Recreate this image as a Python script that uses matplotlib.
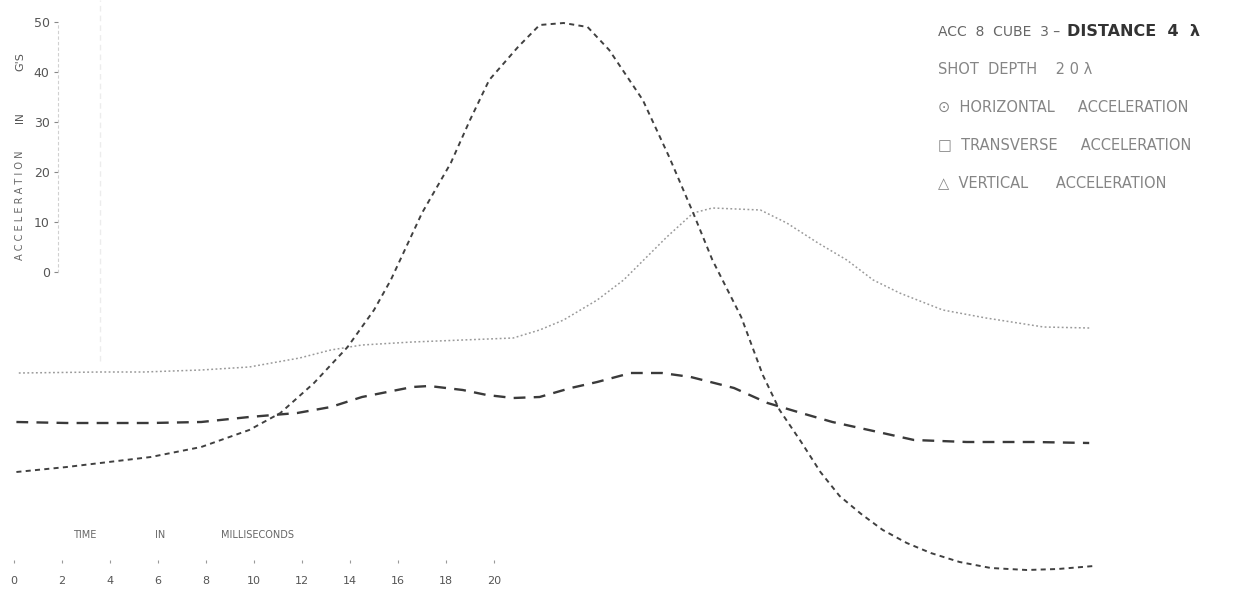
import matplotlib

matplotlib.use("Agg")
import matplotlib.pyplot as plt

# time in ms, acceleration in g (curves are offset)
horiz_t = [0.1, 2.2, 3.6, 5.7, 7.8, 9.8, 11.1, 12.5, 13.9, 15.0, 15.7, 17.0, 18.2, 19.0,
           19.8, 21.0, 21.9, 22.9, 23.9, 24.8, 26.2, 27.3, 28.3, 29.1, 30.3, 31.2, 31.9,
           32.8, 33.6, 34.4, 35.3, 36.2, 37.2, 38.2, 39.4, 40.7, 42.2, 43.5, 45.0]
horiz_g = [-40.0, -39.0, -38.2, -37.0, -35.0, -31.6, -28.2, -22.2, -15.0, -7.6, -1.6, 11.8,
           21.8, 30.4, 38.4, 45.0, 49.4, 49.8, 49.0, 44.4, 34.4, 23.0, 11.8, 2.4, -9.0, -20.6,
           -27.6, -34.0, -40.0, -44.8, -48.4, -51.6, -54.2, -56.2, -58.0, -59.2, -59.6, -59.4,
           -58.8]

trans_t = [0.2, 3.6, 5.4, 7.8, 9.8, 11.9, 13.2, 14.5, 16.6, 18.7, 20.8, 21.9, 22.9, 24.3,
           25.4, 27.2, 28.3, 29.1, 31.1, 32.2, 33.5, 34.7, 35.8, 36.9, 38.7, 40.5, 42.9, 44.8]
trans_g = [-20.2, -20.0, -20.0, -19.6, -19.0, -17.2, -15.6, -14.6, -14.0, -13.6, -13.2, -11.6,
           -9.6, -5.6, -1.6, 7.0, 11.8, 12.8, 12.4, 9.8, 5.8, 2.4, -1.6, -4.2, -7.6, -9.2,
           -11.0, -11.2]

vert_t = [0.1, 2.2, 4.3, 5.7, 7.8, 9.8, 11.8, 13.2, 14.5, 16.6, 17.3, 18.7, 19.7, 20.8,
          21.9, 23.2, 24.3, 25.7, 27.0, 28.2, 30.0, 31.4, 32.8, 34.1, 36.0, 37.5, 39.7,
          42.5, 44.8]
vert_g = [-30.0, -30.2, -30.2, -30.2, -30.0, -29.0, -28.2, -27.0, -25.0, -23.0, -22.8, -23.6,
          -24.6, -25.2, -25.0, -23.2, -22.0, -20.2, -20.2, -21.0, -23.2, -26.2, -28.2, -30.0,
          -32.0, -33.6, -34.0, -34.0, -34.2]

x_ticks = [0, 2, 4, 6, 8, 10, 12, 14, 16, 18, 20]
y_ticks = [0, 10, 20, 30, 40, 50]

legend_rows = [
    "SHOT  DEPTH    2 0 λ",
    "⊙  HORIZONTAL     ACCELERATION",
    "□  TRANSVERSE     ACCELERATION",
    "△  VERTICAL      ACCELERATION",
]

W, H = 1239, 591
fig = plt.figure(figsize=(W / 100, H / 100), dpi=100)
ax = fig.add_axes([0, 0, 1, 1])

# pixel mapping of the scan: x = 14 + 24*t, y = 272 - 5*g
ax.set_xlim(-14 / 24, (W - 14) / 24)
ax.set_ylim((272 - H) / 5, 272 / 5)

ax.plot(trans_t, trans_g, color="#9a9a9a", lw=1.1, linestyle=(0, (1.2, 1.6)))
ax.plot(vert_t, vert_g, color="#3a3a3a", lw=1.7, linestyle=(0, (5, 3.5)))
ax.plot(horiz_t, horiz_g, color="#404040", lw=1.4, linestyle=(0, (2.6, 2.2)))

# faint scan line
ax.axvline((100 - 14) / 24, ymin=0.39, ymax=1, color="#ececec", lw=1, linestyle=(0, (4, 3)))

for side in ["top", "right"]:
    ax.spines[side].set_visible(False)
ax.spines["left"].set_position(("data", (58 - 14) / 24))
ax.spines["left"].set_bounds(0, 50)
ax.spines["left"].set_color("#d0d0d0")
ax.spines["left"].set_linestyle((0, (2, 3)))
ax.spines["bottom"].set_position(("data", (272 - 563) / 5))
ax.spines["bottom"].set_visible(False)

ax.set_yticks(y_ticks)
ax.set_yticklabels([str(v) for v in y_ticks])
ax.set_xticks(x_ticks)
ax.set_xticklabels([str(v) for v in x_ticks])
ax.tick_params(axis="y", length=3, width=0.8, color="#888888", pad=3,
               labelsize=9, labelcolor="#555555")
ax.tick_params(axis="x", direction="in", length=2, width=0.8, color="#999999", pad=9,
               labelsize=8, labelcolor="#555555")

# axis titles
fig.text(20 / W, 1 - 205 / H, "A C C E L E R A T I O N", rotation=90, ha="center",
         va="center", fontsize=7, color="#666666")
fig.text(20 / W, 1 - 118 / H, "IN", rotation=90, ha="center", va="center",
         fontsize=7.5, color="#555555")
fig.text(20 / W, 1 - 62 / H, "G'S", rotation=90, ha="center", va="center",
         fontsize=8, color="#555555")
fig.text(85 / W, 1 - 535 / H, "TIME", ha="center", va="center", fontsize=7, color="#666666")
fig.text(160 / W, 1 - 535 / H, "IN", ha="center", va="center", fontsize=7, color="#666666")
fig.text(257 / W, 1 - 535 / H, "MILLISECONDS", ha="center", va="center", fontsize=7,
         color="#666666")

# title block at top right
fig.text(938 / W, 1 - 32 / H, "ACC  8  CUBE  3 –", ha="left", va="center", fontsize=10,
         color="#666666")
fig.text(1067 / W, 1 - 32 / H, "DISTANCE  4  λ", ha="left", va="center", fontsize=11.5,
         fontweight="bold", color="#333333")
for i, row in enumerate(legend_rows):
    fig.text(938 / W, 1 - (70 + 37.5 * i) / H, row, ha="left", va="center", fontsize=10.5,
             color="#858585")

fig.savefig("out.png", dpi=100, facecolor="white")
